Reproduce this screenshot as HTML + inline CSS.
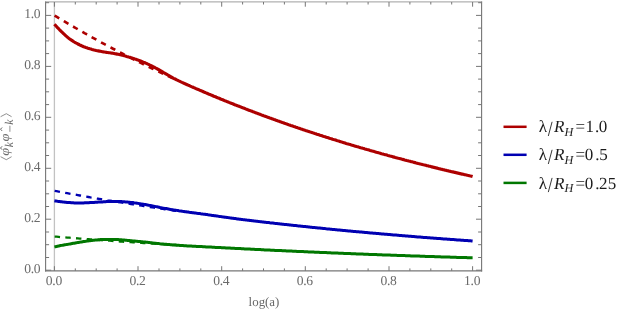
<!DOCTYPE html>
<html><head><meta charset="utf-8"><title>plot</title>
<style>
html,body{margin:0;padding:0;background:#fff}
body{width:623px;height:313px;overflow:hidden;font-family:"Liberation Serif",serif}
svg{display:block;will-change:transform;text-rendering:geometricPrecision}
</style>
</head><body>
<svg width="623" height="313" viewBox="0 0 623 313">
<rect width="623" height="313" fill="#ffffff"/>
<line x1="54.4" y1="2.0" x2="54.4" y2="270.9" stroke="#c2c2c2" stroke-width="1.3"/>
<g fill="none" stroke-width="2.35" stroke-dasharray="5.4 5.32" stroke-dashoffset="-0.25">
<path d="M54.4,15.4 L56.4,16.6 L58.4,17.8 L60.4,19.0 L62.4,20.2 L64.4,21.4 L66.4,22.6 L68.4,23.8 L70.4,25.0 L72.5,26.2 L74.5,27.3 L76.5,28.5 L78.5,29.7 L80.5,30.8 L82.5,31.9 L84.5,33.1 L86.5,34.2 L88.5,35.4 L90.5,36.5 L92.5,37.6 L94.5,38.7 L96.5,39.8 L98.5,40.9 L100.5,42.0 L102.5,43.1 L104.5,44.2 L106.6,45.3 L108.6,46.4 L110.6,47.4 L112.6,48.5 L114.6,49.5 L116.6,50.6 L118.6,51.7 L120.6,52.7 L122.6,53.7 L124.6,54.8 L126.6,55.8 L128.6,56.8 L130.6,57.9 L132.6,58.9 L134.6,59.9 L136.6,60.9 L138.6,61.9 L140.7,62.9 L142.7,63.9 L144.7,64.9 L146.7,65.8 L148.7,66.8 L150.7,67.8 L152.7,68.8 L154.7,69.7 L156.7,70.7 L158.7,71.6 L160.7,72.6 L162.7,73.5 L164.7,74.5 L166.7,75.4 L168.7,76.4 L170.7,77.3 L172.8,78.2" stroke="#ad0000" stroke-width="2.6"/>
<path d="M54.4,190.8 L56.5,191.2 L58.7,191.6 L60.8,192.0 L62.9,192.4 L65.0,192.8 L67.2,193.2 L69.3,193.6 L71.4,194.0 L73.5,194.4 L75.7,194.7 L77.8,195.1 L79.9,195.5 L82.0,195.9 L84.2,196.3 L86.3,196.6 L88.4,197.0 L90.5,197.4 L92.7,197.7 L94.8,198.1 L96.9,198.5 L99.1,198.8 L101.2,199.2 L103.3,199.6 L105.4,199.9 L107.6,200.3 L109.7,200.6 L111.8,201.0 L113.9,201.3 L116.1,201.7 L118.2,202.0 L120.3,202.4 L122.4,202.7 L124.6,203.1 L126.7,203.4 L128.8,203.7 L131.0,204.1 L133.1,204.4 L135.2,204.8 L137.3,205.1 L139.5,205.4 L141.6,205.7 L143.7,206.1 L145.8,206.4 L148.0,206.7 L150.1,207.0 L152.2,207.4 L154.3,207.7 L156.5,208.0 L158.6,208.3 L160.7,208.6 L162.8,208.9 L165.0,209.3 L167.1,209.6 L169.2,209.9 L171.4,210.2 L173.5,210.5 L175.6,210.8 L177.7,211.1 L179.9,211.4" stroke="#0000b2" stroke-width="2.3"/>
<path d="M54.4,236.6 L56.5,236.7 L58.7,236.9 L60.8,237.1 L62.9,237.2 L65.0,237.4 L67.2,237.6 L69.3,237.7 L71.4,237.9 L73.5,238.1 L75.7,238.2 L77.8,238.4 L79.9,238.6 L82.0,238.7 L84.2,238.9 L86.3,239.0 L88.4,239.2 L90.5,239.4 L92.7,239.5 L94.8,239.7 L96.9,239.8 L99.1,240.0 L101.2,240.1 L103.3,240.3 L105.4,240.4 L107.6,240.6 L109.7,240.7 L111.8,240.9 L113.9,241.0 L116.1,241.2 L118.2,241.3 L120.3,241.5 L122.4,241.6 L124.6,241.8 L126.7,241.9 L128.8,242.0 L131.0,242.2 L133.1,242.3 L135.2,242.5 L137.3,242.6 L139.5,242.8 L141.6,242.9 L143.7,243.0 L145.8,243.2 L148.0,243.3 L150.1,243.4 L152.2,243.6 L154.3,243.7 L156.5,243.9 L158.6,244.0 L160.7,244.1 L162.8,244.2 L165.0,244.4 L167.1,244.5 L169.2,244.6 L171.4,244.8 L173.5,244.9 L175.6,245.0 L177.7,245.2 L179.9,245.3" stroke="#007700" stroke-width="2.3"/>
</g>
<g fill="none" stroke-width="3.05" stroke-linejoin="round">
<path d="M54.4,24.2 L55.4,25.3 L56.5,26.5 L57.5,27.6 L58.6,28.7 L59.6,29.8 L60.7,30.9 L61.7,31.9 L62.8,32.9 L63.8,33.9 L64.9,34.9 L65.9,35.8 L66.9,36.7 L68.0,37.6 L69.0,38.4 L70.1,39.2 L71.1,39.9 L72.2,40.6 L73.2,41.3 L74.3,42.0 L75.3,42.6 L76.4,43.2 L77.4,43.7 L78.4,44.3 L79.5,44.8 L80.5,45.3 L81.6,45.8 L82.6,46.2 L83.7,46.7 L84.7,47.1 L85.8,47.5 L86.8,47.8 L87.9,48.2 L88.9,48.5 L89.9,48.8 L91.0,49.1 L92.0,49.4 L93.1,49.7 L94.1,50.0 L95.2,50.2 L96.2,50.5 L97.3,50.7 L98.3,50.9 L99.4,51.1 L100.4,51.3 L101.4,51.5 L102.5,51.7 L103.5,51.9 L104.6,52.0 L105.6,52.2 L106.7,52.4 L107.7,52.5 L108.8,52.7 L109.8,52.8 L110.9,53.0 L111.9,53.1 L112.9,53.3 L114.0,53.5 L115.0,53.7 L116.1,53.9 L117.1,54.1 L118.2,54.3 L119.2,54.5 L120.3,54.8 L121.3,55.0 L122.4,55.3 L123.4,55.5 L124.4,55.8 L125.5,56.1 L126.5,56.4 L127.6,56.7 L128.6,57.0 L129.7,57.3 L130.7,57.6 L131.8,57.9 L132.8,58.3 L133.9,58.6 L134.9,59.0 L135.9,59.3 L137.0,59.7 L138.0,60.1 L139.1,60.4 L140.1,60.8 L141.2,61.2 L142.2,61.6 L143.3,62.1 L144.3,62.5 L145.4,63.0 L146.4,63.4 L147.4,63.9 L148.5,64.4 L149.5,64.9 L150.6,65.4 L151.6,65.9 L152.7,66.5 L153.7,67.0 L154.8,67.5 L155.8,68.1 L156.9,68.7 L157.9,69.3 L159.0,69.8 L160.0,70.4 L161.0,71.0 L162.1,71.6 L163.1,72.3 L164.2,72.9 L165.2,73.5 L166.3,74.1 L167.3,74.7 L168.4,75.3 L169.4,75.9 L170.5,76.5 L171.5,77.1 L172.5,77.7 L173.6,78.3 L174.6,78.8 L175.7,79.3 L176.7,79.9 L177.8,80.4 L178.8,80.9 L179.9,81.4 L180.9,81.9 L182.0,82.4 L183.0,82.8 L184.0,83.3 L185.1,83.8 L186.1,84.2 L187.2,84.7 L188.2,85.2 L189.3,85.6 L190.3,86.1 L191.4,86.6 L192.4,87.0 L193.5,87.5 L194.5,87.9 L195.5,88.4 L196.6,88.8 L197.6,89.3 L198.7,89.7 L199.7,90.2 L200.8,90.6 L201.8,91.1 L202.9,91.5 L203.9,92.0 L205.0,92.4 L206.0,92.9 L207.0,93.3 L208.1,93.8 L209.1,94.2 L210.2,94.6 L211.2,95.1 L212.3,95.5 L213.3,96.0 L214.4,96.4 L215.4,96.8 L216.5,97.3 L217.5,97.7 L218.5,98.1 L219.6,98.5 L220.6,99.0 L221.7,99.4 L222.7,99.8 L223.8,100.3 L224.8,100.7 L225.9,101.1 L226.9,101.5 L228.0,101.9 L229.0,102.4 L230.0,102.8 L231.1,103.2 L232.1,103.6 L233.2,104.0 L234.2,104.5 L235.3,104.9 L236.3,105.3 L237.4,105.7 L238.4,106.1 L239.5,106.5 L240.5,106.9 L241.5,107.3 L242.6,107.7 L243.6,108.1 L244.7,108.5 L245.7,108.9 L246.8,109.3 L247.8,109.8 L248.9,110.2 L249.9,110.6 L251.0,110.9 L252.0,111.3 L253.0,111.7 L254.1,112.1 L255.1,112.5 L256.2,112.9 L257.2,113.3 L258.3,113.7 L259.3,114.1 L260.4,114.5 L261.4,114.9 L262.5,115.3 L263.5,115.7 L264.5,116.0 L265.6,116.4 L266.6,116.8 L267.7,117.2 L268.7,117.6 L269.8,118.0 L270.8,118.3 L271.9,118.7 L272.9,119.1 L274.0,119.5 L275.0,119.8 L276.0,120.2 L277.1,120.6 L278.1,121.0 L279.2,121.3 L280.2,121.7 L281.3,122.1 L282.3,122.5 L283.4,122.8 L284.4,123.2 L285.5,123.6 L286.5,123.9 L287.5,124.3 L288.6,124.7 L289.6,125.0 L290.7,125.4 L291.7,125.7 L292.8,126.1 L293.8,126.5 L294.9,126.8 L295.9,127.2 L297.0,127.5 L298.0,127.9 L299.0,128.2 L300.1,128.6 L301.1,129.0 L302.2,129.3 L303.2,129.7 L304.3,130.0 L305.3,130.4 L306.4,130.7 L307.4,131.1 L308.5,131.4 L309.5,131.8 L310.5,132.1 L311.6,132.4 L312.6,132.8 L313.7,133.1 L314.7,133.5 L315.8,133.8 L316.8,134.2 L317.9,134.5 L318.9,134.8 L320.0,135.2 L321.0,135.5 L322.0,135.8 L323.1,136.2 L324.1,136.5 L325.2,136.8 L326.2,137.2 L327.3,137.5 L328.3,137.8 L329.4,138.2 L330.4,138.5 L331.5,138.8 L332.5,139.2 L333.5,139.5 L334.6,139.8 L335.6,140.1 L336.7,140.5 L337.7,140.8 L338.8,141.1 L339.8,141.4 L340.9,141.8 L341.9,142.1 L343.0,142.4 L344.0,142.7 L345.0,143.0 L346.1,143.4 L347.1,143.7 L348.2,144.0 L349.2,144.3 L350.3,144.6 L351.3,144.9 L352.4,145.2 L353.4,145.6 L354.5,145.9 L355.5,146.2 L356.5,146.5 L357.6,146.8 L358.6,147.1 L359.7,147.4 L360.7,147.7 L361.8,148.0 L362.8,148.3 L363.9,148.6 L364.9,148.9 L366.0,149.2 L367.0,149.5 L368.1,149.8 L369.1,150.1 L370.1,150.4 L371.2,150.7 L372.2,151.0 L373.3,151.3 L374.3,151.6 L375.4,151.9 L376.4,152.2 L377.5,152.5 L378.5,152.8 L379.6,153.1 L380.6,153.4 L381.6,153.7 L382.7,154.0 L383.7,154.3 L384.8,154.6 L385.8,154.8 L386.9,155.1 L387.9,155.4 L389.0,155.7 L390.0,156.0 L391.1,156.3 L392.1,156.6 L393.1,156.9 L394.2,157.1 L395.2,157.4 L396.3,157.7 L397.3,158.0 L398.4,158.3 L399.4,158.5 L400.5,158.8 L401.5,159.1 L402.6,159.4 L403.6,159.6 L404.6,159.9 L405.7,160.2 L406.7,160.5 L407.8,160.7 L408.8,161.0 L409.9,161.3 L410.9,161.6 L412.0,161.8 L413.0,162.1 L414.1,162.4 L415.1,162.6 L416.1,162.9 L417.2,163.2 L418.2,163.5 L419.3,163.7 L420.3,164.0 L421.4,164.2 L422.4,164.5 L423.5,164.8 L424.5,165.0 L425.6,165.3 L426.6,165.6 L427.6,165.8 L428.7,166.1 L429.7,166.3 L430.8,166.6 L431.8,166.9 L432.9,167.1 L433.9,167.4 L435.0,167.6 L436.0,167.9 L437.1,168.1 L438.1,168.4 L439.1,168.7 L440.2,168.9 L441.2,169.2 L442.3,169.4 L443.3,169.7 L444.4,169.9 L445.4,170.2 L446.5,170.4 L447.5,170.7 L448.6,170.9 L449.6,171.2 L450.6,171.4 L451.7,171.7 L452.7,171.9 L453.8,172.1 L454.8,172.4 L455.9,172.6 L456.9,172.9 L458.0,173.1 L459.0,173.4 L460.1,173.6 L461.1,173.9 L462.1,174.1 L463.2,174.3 L464.2,174.6 L465.3,174.8 L466.3,175.0 L467.4,175.3 L468.4,175.5 L469.5,175.8 L470.5,176.0 L471.6,176.2 L472.6,176.5" stroke="#ad0000" stroke-width="3.15"/>
<path d="M54.4,200.8 L55.4,201.0 L56.5,201.1 L57.5,201.3 L58.6,201.4 L59.6,201.5 L60.7,201.7 L61.7,201.8 L62.8,201.9 L63.8,202.1 L64.9,202.2 L65.9,202.3 L66.9,202.4 L68.0,202.5 L69.0,202.6 L70.1,202.6 L71.1,202.7 L72.2,202.8 L73.2,202.8 L74.3,202.9 L75.3,202.9 L76.4,202.9 L77.4,202.9 L78.4,203.0 L79.5,202.9 L80.5,202.9 L81.6,202.9 L82.6,202.9 L83.7,202.9 L84.7,202.8 L85.8,202.8 L86.8,202.8 L87.9,202.7 L88.9,202.7 L89.9,202.6 L91.0,202.6 L92.0,202.5 L93.1,202.5 L94.1,202.4 L95.2,202.3 L96.2,202.3 L97.3,202.2 L98.3,202.1 L99.4,202.1 L100.4,202.0 L101.4,201.9 L102.5,201.9 L103.5,201.8 L104.6,201.8 L105.6,201.7 L106.7,201.6 L107.7,201.6 L108.8,201.6 L109.8,201.5 L110.9,201.5 L111.9,201.5 L112.9,201.5 L114.0,201.5 L115.0,201.5 L116.1,201.5 L117.1,201.5 L118.2,201.5 L119.2,201.6 L120.3,201.6 L121.3,201.6 L122.4,201.7 L123.4,201.8 L124.4,201.8 L125.5,201.9 L126.5,202.0 L127.6,202.1 L128.6,202.2 L129.7,202.3 L130.7,202.4 L131.8,202.5 L132.8,202.6 L133.9,202.8 L134.9,202.9 L135.9,203.1 L137.0,203.2 L138.0,203.4 L139.1,203.6 L140.1,203.7 L141.2,203.9 L142.2,204.1 L143.3,204.2 L144.3,204.4 L145.4,204.6 L146.4,204.8 L147.4,205.0 L148.5,205.2 L149.5,205.4 L150.6,205.6 L151.6,205.8 L152.7,206.0 L153.7,206.2 L154.8,206.4 L155.8,206.6 L156.9,206.8 L157.9,207.0 L159.0,207.2 L160.0,207.5 L161.0,207.7 L162.1,207.9 L163.1,208.1 L164.2,208.3 L165.2,208.4 L166.3,208.6 L167.3,208.8 L168.4,209.0 L169.4,209.2 L170.5,209.4 L171.5,209.6 L172.5,209.7 L173.6,209.9 L174.6,210.1 L175.7,210.2 L176.7,210.4 L177.8,210.6 L178.8,210.8 L179.9,210.9 L180.9,211.1 L182.0,211.2 L183.0,211.4 L184.0,211.5 L185.1,211.7 L186.1,211.8 L187.2,212.0 L188.2,212.1 L189.3,212.3 L190.3,212.4 L191.4,212.5 L192.4,212.7 L193.5,212.8 L194.5,213.0 L195.5,213.1 L196.6,213.2 L197.6,213.4 L198.7,213.5 L199.7,213.6 L200.8,213.8 L201.8,213.9 L202.9,214.1 L203.9,214.2 L205.0,214.3 L206.0,214.5 L207.0,214.6 L208.1,214.8 L209.1,214.9 L210.2,215.1 L211.2,215.2 L212.3,215.4 L213.3,215.5 L214.4,215.7 L215.4,215.8 L216.5,216.0 L217.5,216.1 L218.5,216.3 L219.6,216.4 L220.6,216.6 L221.7,216.7 L222.7,216.9 L223.8,217.0 L224.8,217.2 L225.9,217.3 L226.9,217.4 L228.0,217.6 L229.0,217.7 L230.0,217.9 L231.1,218.0 L232.1,218.2 L233.2,218.3 L234.2,218.5 L235.3,218.6 L236.3,218.7 L237.4,218.9 L238.4,219.0 L239.5,219.2 L240.5,219.3 L241.5,219.4 L242.6,219.6 L243.6,219.7 L244.7,219.8 L245.7,219.9 L246.8,220.1 L247.8,220.2 L248.9,220.3 L249.9,220.5 L251.0,220.6 L252.0,220.7 L253.0,220.8 L254.1,220.9 L255.1,221.1 L256.2,221.2 L257.2,221.3 L258.3,221.4 L259.3,221.6 L260.4,221.7 L261.4,221.8 L262.5,221.9 L263.5,222.0 L264.5,222.2 L265.6,222.3 L266.6,222.4 L267.7,222.5 L268.7,222.6 L269.8,222.8 L270.8,222.9 L271.9,223.0 L272.9,223.1 L274.0,223.2 L275.0,223.4 L276.0,223.5 L277.1,223.6 L278.1,223.7 L279.2,223.8 L280.2,223.9 L281.3,224.0 L282.3,224.2 L283.4,224.3 L284.4,224.4 L285.5,224.5 L286.5,224.6 L287.5,224.7 L288.6,224.8 L289.6,225.0 L290.7,225.1 L291.7,225.2 L292.8,225.3 L293.8,225.4 L294.9,225.5 L295.9,225.6 L297.0,225.7 L298.0,225.9 L299.0,226.0 L300.1,226.1 L301.1,226.2 L302.2,226.3 L303.2,226.4 L304.3,226.5 L305.3,226.6 L306.4,226.7 L307.4,226.8 L308.5,227.0 L309.5,227.1 L310.5,227.2 L311.6,227.3 L312.6,227.4 L313.7,227.5 L314.7,227.6 L315.8,227.7 L316.8,227.8 L317.9,227.9 L318.9,228.0 L320.0,228.1 L321.0,228.2 L322.0,228.3 L323.1,228.4 L324.1,228.5 L325.2,228.6 L326.2,228.8 L327.3,228.9 L328.3,229.0 L329.4,229.1 L330.4,229.2 L331.5,229.3 L332.5,229.4 L333.5,229.5 L334.6,229.6 L335.6,229.7 L336.7,229.8 L337.7,229.9 L338.8,230.0 L339.8,230.1 L340.9,230.2 L341.9,230.3 L343.0,230.4 L344.0,230.5 L345.0,230.6 L346.1,230.7 L347.1,230.8 L348.2,230.9 L349.2,231.0 L350.3,231.1 L351.3,231.2 L352.4,231.3 L353.4,231.4 L354.5,231.5 L355.5,231.6 L356.5,231.7 L357.6,231.7 L358.6,231.8 L359.7,231.9 L360.7,232.0 L361.8,232.1 L362.8,232.2 L363.9,232.3 L364.9,232.4 L366.0,232.5 L367.0,232.6 L368.1,232.7 L369.1,232.8 L370.1,232.9 L371.2,233.0 L372.2,233.1 L373.3,233.2 L374.3,233.3 L375.4,233.3 L376.4,233.4 L377.5,233.5 L378.5,233.6 L379.6,233.7 L380.6,233.8 L381.6,233.9 L382.7,234.0 L383.7,234.1 L384.8,234.2 L385.8,234.3 L386.9,234.3 L387.9,234.4 L389.0,234.5 L390.0,234.6 L391.1,234.7 L392.1,234.8 L393.1,234.9 L394.2,235.0 L395.2,235.1 L396.3,235.1 L397.3,235.2 L398.4,235.3 L399.4,235.4 L400.5,235.5 L401.5,235.6 L402.6,235.7 L403.6,235.8 L404.6,235.8 L405.7,235.9 L406.7,236.0 L407.8,236.1 L408.8,236.2 L409.9,236.3 L410.9,236.3 L412.0,236.4 L413.0,236.5 L414.1,236.6 L415.1,236.7 L416.1,236.8 L417.2,236.9 L418.2,236.9 L419.3,237.0 L420.3,237.1 L421.4,237.2 L422.4,237.3 L423.5,237.4 L424.5,237.4 L425.6,237.5 L426.6,237.6 L427.6,237.7 L428.7,237.8 L429.7,237.8 L430.8,237.9 L431.8,238.0 L432.9,238.1 L433.9,238.2 L435.0,238.2 L436.0,238.3 L437.1,238.4 L438.1,238.5 L439.1,238.6 L440.2,238.6 L441.2,238.7 L442.3,238.8 L443.3,238.9 L444.4,239.0 L445.4,239.0 L446.5,239.1 L447.5,239.2 L448.6,239.3 L449.6,239.3 L450.6,239.4 L451.7,239.5 L452.7,239.6 L453.8,239.6 L454.8,239.7 L455.9,239.8 L456.9,239.9 L458.0,240.0 L459.0,240.0 L460.1,240.1 L461.1,240.2 L462.1,240.3 L463.2,240.3 L464.2,240.4 L465.3,240.5 L466.3,240.6 L467.4,240.6 L468.4,240.7 L469.5,240.8 L470.5,240.8 L471.6,240.9 L472.6,241.0" stroke="#0000b2" stroke-width="3.0"/>
<path d="M54.4,246.9 L55.4,246.7 L56.5,246.5 L57.5,246.3 L58.6,246.1 L59.6,245.8 L60.7,245.6 L61.7,245.4 L62.8,245.2 L63.8,245.0 L64.9,244.8 L65.9,244.6 L66.9,244.4 L68.0,244.3 L69.0,244.1 L70.1,243.9 L71.1,243.7 L72.2,243.5 L73.2,243.3 L74.3,243.2 L75.3,243.0 L76.4,242.8 L77.4,242.6 L78.4,242.5 L79.5,242.3 L80.5,242.1 L81.6,242.0 L82.6,241.8 L83.7,241.6 L84.7,241.4 L85.8,241.3 L86.8,241.1 L87.9,241.0 L88.9,240.8 L89.9,240.7 L91.0,240.5 L92.0,240.4 L93.1,240.3 L94.1,240.2 L95.2,240.1 L96.2,240.0 L97.3,239.9 L98.3,239.8 L99.4,239.7 L100.4,239.6 L101.4,239.6 L102.5,239.5 L103.5,239.5 L104.6,239.4 L105.6,239.4 L106.7,239.4 L107.7,239.4 L108.8,239.4 L109.8,239.4 L110.9,239.4 L111.9,239.4 L112.9,239.4 L114.0,239.5 L115.0,239.5 L116.1,239.5 L117.1,239.6 L118.2,239.6 L119.2,239.7 L120.3,239.8 L121.3,239.8 L122.4,239.9 L123.4,240.0 L124.4,240.1 L125.5,240.2 L126.5,240.3 L127.6,240.4 L128.6,240.5 L129.7,240.6 L130.7,240.7 L131.8,240.8 L132.8,240.9 L133.9,241.0 L134.9,241.1 L135.9,241.2 L137.0,241.3 L138.0,241.4 L139.1,241.5 L140.1,241.6 L141.2,241.7 L142.2,241.8 L143.3,241.9 L144.3,242.0 L145.4,242.1 L146.4,242.2 L147.4,242.3 L148.5,242.5 L149.5,242.6 L150.6,242.7 L151.6,242.8 L152.7,242.9 L153.7,243.1 L154.8,243.2 L155.8,243.3 L156.9,243.4 L157.9,243.5 L159.0,243.6 L160.0,243.8 L161.0,243.9 L162.1,244.0 L163.1,244.1 L164.2,244.2 L165.2,244.3 L166.3,244.3 L167.3,244.4 L168.4,244.5 L169.4,244.6 L170.5,244.7 L171.5,244.8 L172.5,244.9 L173.6,244.9 L174.6,245.0 L175.7,245.1 L176.7,245.2 L177.8,245.3 L178.8,245.3 L179.9,245.4 L180.9,245.5 L182.0,245.5 L183.0,245.6 L184.0,245.7 L185.1,245.7 L186.1,245.8 L187.2,245.9 L188.2,245.9 L189.3,246.0 L190.3,246.0 L191.4,246.1 L192.4,246.2 L193.5,246.2 L194.5,246.3 L195.5,246.3 L196.6,246.4 L197.6,246.4 L198.7,246.5 L199.7,246.5 L200.8,246.6 L201.8,246.6 L202.9,246.7 L203.9,246.8 L205.0,246.8 L206.0,246.9 L207.0,246.9 L208.1,247.0 L209.1,247.0 L210.2,247.1 L211.2,247.1 L212.3,247.2 L213.3,247.3 L214.4,247.3 L215.4,247.4 L216.5,247.4 L217.5,247.5 L218.5,247.5 L219.6,247.6 L220.6,247.6 L221.7,247.7 L222.7,247.7 L223.8,247.8 L224.8,247.8 L225.9,247.9 L226.9,248.0 L228.0,248.0 L229.0,248.1 L230.0,248.1 L231.1,248.2 L232.1,248.2 L233.2,248.3 L234.2,248.3 L235.3,248.4 L236.3,248.4 L237.4,248.5 L238.4,248.5 L239.5,248.6 L240.5,248.6 L241.5,248.7 L242.6,248.8 L243.6,248.8 L244.7,248.9 L245.7,248.9 L246.8,249.0 L247.8,249.0 L248.9,249.1 L249.9,249.1 L251.0,249.2 L252.0,249.2 L253.0,249.3 L254.1,249.3 L255.1,249.4 L256.2,249.4 L257.2,249.5 L258.3,249.5 L259.3,249.6 L260.4,249.6 L261.4,249.7 L262.5,249.7 L263.5,249.8 L264.5,249.9 L265.6,249.9 L266.6,250.0 L267.7,250.0 L268.7,250.1 L269.8,250.1 L270.8,250.2 L271.9,250.2 L272.9,250.3 L274.0,250.3 L275.0,250.4 L276.0,250.4 L277.1,250.5 L278.1,250.5 L279.2,250.6 L280.2,250.6 L281.3,250.6 L282.3,250.7 L283.4,250.7 L284.4,250.8 L285.5,250.8 L286.5,250.9 L287.5,250.9 L288.6,251.0 L289.6,251.0 L290.7,251.1 L291.7,251.1 L292.8,251.2 L293.8,251.2 L294.9,251.3 L295.9,251.3 L297.0,251.4 L298.0,251.4 L299.0,251.5 L300.1,251.5 L301.1,251.6 L302.2,251.6 L303.2,251.6 L304.3,251.7 L305.3,251.7 L306.4,251.8 L307.4,251.8 L308.5,251.9 L309.5,251.9 L310.5,252.0 L311.6,252.0 L312.6,252.1 L313.7,252.1 L314.7,252.2 L315.8,252.2 L316.8,252.2 L317.9,252.3 L318.9,252.3 L320.0,252.4 L321.0,252.4 L322.0,252.5 L323.1,252.5 L324.1,252.6 L325.2,252.6 L326.2,252.6 L327.3,252.7 L328.3,252.7 L329.4,252.8 L330.4,252.8 L331.5,252.9 L332.5,252.9 L333.5,252.9 L334.6,253.0 L335.6,253.0 L336.7,253.1 L337.7,253.1 L338.8,253.2 L339.8,253.2 L340.9,253.2 L341.9,253.3 L343.0,253.3 L344.0,253.4 L345.0,253.4 L346.1,253.5 L347.1,253.5 L348.2,253.5 L349.2,253.6 L350.3,253.6 L351.3,253.7 L352.4,253.7 L353.4,253.7 L354.5,253.8 L355.5,253.8 L356.5,253.9 L357.6,253.9 L358.6,254.0 L359.7,254.0 L360.7,254.0 L361.8,254.1 L362.8,254.1 L363.9,254.2 L364.9,254.2 L366.0,254.2 L367.0,254.3 L368.1,254.3 L369.1,254.4 L370.1,254.4 L371.2,254.4 L372.2,254.5 L373.3,254.5 L374.3,254.5 L375.4,254.6 L376.4,254.6 L377.5,254.7 L378.5,254.7 L379.6,254.7 L380.6,254.8 L381.6,254.8 L382.7,254.9 L383.7,254.9 L384.8,254.9 L385.8,255.0 L386.9,255.0 L387.9,255.0 L389.0,255.1 L390.0,255.1 L391.1,255.2 L392.1,255.2 L393.1,255.2 L394.2,255.3 L395.2,255.3 L396.3,255.3 L397.3,255.4 L398.4,255.4 L399.4,255.5 L400.5,255.5 L401.5,255.5 L402.6,255.6 L403.6,255.6 L404.6,255.6 L405.7,255.7 L406.7,255.7 L407.8,255.8 L408.8,255.8 L409.9,255.8 L410.9,255.9 L412.0,255.9 L413.0,255.9 L414.1,256.0 L415.1,256.0 L416.1,256.0 L417.2,256.1 L418.2,256.1 L419.3,256.1 L420.3,256.2 L421.4,256.2 L422.4,256.2 L423.5,256.3 L424.5,256.3 L425.6,256.4 L426.6,256.4 L427.6,256.4 L428.7,256.5 L429.7,256.5 L430.8,256.5 L431.8,256.6 L432.9,256.6 L433.9,256.6 L435.0,256.7 L436.0,256.7 L437.1,256.7 L438.1,256.8 L439.1,256.8 L440.2,256.8 L441.2,256.9 L442.3,256.9 L443.3,256.9 L444.4,257.0 L445.4,257.0 L446.5,257.0 L447.5,257.1 L448.6,257.1 L449.6,257.1 L450.6,257.2 L451.7,257.2 L452.7,257.2 L453.8,257.3 L454.8,257.3 L455.9,257.3 L456.9,257.4 L458.0,257.4 L459.0,257.4 L460.1,257.5 L461.1,257.5 L462.1,257.5 L463.2,257.5 L464.2,257.6 L465.3,257.6 L466.3,257.6 L467.4,257.7 L468.4,257.7 L469.5,257.7 L470.5,257.8 L471.6,257.8 L472.6,257.8" stroke="#007700" stroke-width="3.0"/>
</g>
<path d="M45.6,1.6V271.45M481.6,1.6V271.45" fill="none" stroke="#767676" stroke-width="1.1"/>
<path d="M45.050000000000004,270.9H482.15000000000003" fill="none" stroke="#767676" stroke-width="1.15"/>
<path d="M45.050000000000004,1.9H482.15000000000003" fill="none" stroke="#8c8c8c" stroke-width="0.85"/>
<path d="M54.4,270.9v-4.7M54.4,2.0v4.7M75.3,270.9v-2.5M75.3,2.0v2.5M96.2,270.9v-2.5M96.2,2.0v2.5M117.1,270.9v-2.5M117.1,2.0v2.5M138.0,270.9v-4.7M138.0,2.0v4.7M159.0,270.9v-2.5M159.0,2.0v2.5M179.9,270.9v-2.5M179.9,2.0v2.5M200.8,270.9v-2.5M200.8,2.0v2.5M221.7,270.9v-4.7M221.7,2.0v4.7M242.6,270.9v-2.5M242.6,2.0v2.5M263.5,270.9v-2.5M263.5,2.0v2.5M284.4,270.9v-2.5M284.4,2.0v2.5M305.3,270.9v-4.7M305.3,2.0v4.7M326.2,270.9v-2.5M326.2,2.0v2.5M347.1,270.9v-2.5M347.1,2.0v2.5M368.1,270.9v-2.5M368.1,2.0v2.5M389.0,270.9v-4.7M389.0,2.0v4.7M409.9,270.9v-2.5M409.9,2.0v2.5M430.8,270.9v-2.5M430.8,2.0v2.5M451.7,270.9v-2.5M451.7,2.0v2.5M472.6,270.9v-4.7M472.6,2.0v4.7M45.6,270.2h5.6M481.6,270.2h-5.6M45.6,257.5h3.5M481.6,257.5h-3.5M45.6,244.7h3.5M481.6,244.7h-3.5M45.6,232.0h3.5M481.6,232.0h-3.5M45.6,219.2h5.6M481.6,219.2h-5.6M45.6,206.5h3.5M481.6,206.5h-3.5M45.6,193.8h3.5M481.6,193.8h-3.5M45.6,181.0h3.5M481.6,181.0h-3.5M45.6,168.3h5.6M481.6,168.3h-5.6M45.6,155.5h3.5M481.6,155.5h-3.5M45.6,142.8h3.5M481.6,142.8h-3.5M45.6,130.1h3.5M481.6,130.1h-3.5M45.6,117.3h5.6M481.6,117.3h-5.6M45.6,104.6h3.5M481.6,104.6h-3.5M45.6,91.8h3.5M481.6,91.8h-3.5M45.6,79.1h3.5M481.6,79.1h-3.5M45.6,66.4h5.6M481.6,66.4h-5.6M45.6,53.6h3.5M481.6,53.6h-3.5M45.6,40.9h3.5M481.6,40.9h-3.5M45.6,28.1h3.5M481.6,28.1h-3.5M45.6,15.4h5.6M481.6,15.4h-5.6M45.6,2.7h3.5M481.6,2.7h-3.5" fill="none" stroke="#767676" stroke-width="1"/>
<g style="font-family:'Liberation Serif',serif;font-size:13.6px;letter-spacing:-0.3px;text-rendering:geometricPrecision;fill:#6a6a6a">
<text x="53.9" y="284.9" text-anchor="middle">0.0</text>
<text x="137.5" y="284.9" text-anchor="middle">0.2</text>
<text x="221.2" y="284.9" text-anchor="middle">0.4</text>
<text x="304.8" y="284.9" text-anchor="middle">0.6</text>
<text x="388.5" y="284.9" text-anchor="middle">0.8</text>
<text x="472.1" y="284.9" text-anchor="middle">1.0</text>
<text x="40.3" y="272.8" text-anchor="end">0.0</text>
<text x="40.3" y="221.8" text-anchor="end">0.2</text>
<text x="40.3" y="170.9" text-anchor="end">0.4</text>
<text x="40.3" y="119.9" text-anchor="end">0.6</text>
<text x="40.3" y="69.0" text-anchor="end">0.8</text>
<text x="40.3" y="18.0" text-anchor="end">1.0</text>
</g>
<text x="264" y="306.4" text-anchor="middle" style="font-family:'Liberation Serif',serif;font-size:12.9px;fill:#686868">log(a)</text>
<g transform="rotate(-90)" style="font-family:'Liberation Serif',serif;font-style:italic;fill:#6c6c6c" text-anchor="middle">
<text transform="translate(-151.75,9.4) scale(1.12,1)" font-size="12.9">&#x3C6;</text>
<text x="-144.7" y="12.5" font-size="11.8">k</text>
<text transform="translate(-137.4,9.4) scale(1.12,1)" font-size="12.9">&#x3C6;</text>
<text x="-122.0" y="12.5" font-size="11.8">k</text>
</g>
<path d="M0.6,116.7L6.3,113.7L11.6,116.7M0.6,156.7L6.3,159.7L11.6,156.7M9.9,125.7V131.8" fill="none" stroke="#6c6c6c" stroke-width="0.75"/>
<path d="M2.1,146.3L0.5,148L2.1,149.7M2.1,127.5L0.5,129.2L2.1,130.9" fill="none" stroke="#5a5a5a" stroke-width="0.95"/>
<g style="font-family:'Liberation Serif',serif;font-size:17px;fill:#1c1c1c">
<line x1="503.5" y1="126.8" x2="526.6" y2="126.8" stroke="#ad0000" stroke-width="2.5"/>
<text y="132.4"><tspan x="538.7">&#x3BB;</tspan><tspan x="554.1" font-style="italic">R</tspan><tspan x="564.5" dy="3.5" font-style="italic" font-size="12.2">H</tspan><tspan x="575.6" dy="-3.5">=</tspan><tspan x="585.6">1</tspan><tspan x="595.0">.</tspan><tspan x="598.8">0</tspan></text>
<line x1="548.3" y1="136.0" x2="552.1" y2="121.8" stroke="#222" stroke-width="0.9"/>
<line x1="503.5" y1="154.8" x2="526.6" y2="154.8" stroke="#0000b2" stroke-width="2.5"/>
<text y="160.4"><tspan x="538.7">&#x3BB;</tspan><tspan x="554.1" font-style="italic">R</tspan><tspan x="564.5" dy="3.5" font-style="italic" font-size="12.2">H</tspan><tspan x="575.6" dy="-3.5">=</tspan><tspan x="584.7">0</tspan><tspan x="595.3">.</tspan><tspan x="599.2">5</tspan></text>
<line x1="548.3" y1="164.0" x2="552.1" y2="149.8" stroke="#222" stroke-width="0.9"/>
<line x1="503.5" y1="182.9" x2="526.6" y2="182.9" stroke="#007700" stroke-width="2.5"/>
<text y="188.5"><tspan x="538.7">&#x3BB;</tspan><tspan x="554.1" font-style="italic">R</tspan><tspan x="564.5" dy="3.5" font-style="italic" font-size="12.2">H</tspan><tspan x="575.6" dy="-3.5">=</tspan><tspan x="584.7">0</tspan><tspan x="595.3">.</tspan><tspan x="598.9">2</tspan><tspan x="607.7">5</tspan></text>
<line x1="548.3" y1="192.1" x2="552.1" y2="177.9" stroke="#222" stroke-width="0.9"/>
</g>
</svg>
</body></html>
